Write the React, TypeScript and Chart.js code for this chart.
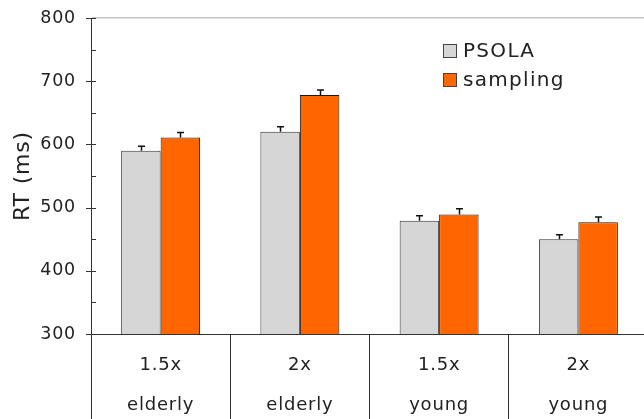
import React, { useEffect, useRef } from "react";
import { Chart, registerables } from "chart.js";

Chart.register(...registerables);

const categories: string[][] = [
  ["1.5x", "elderly"],
  ["2x", "elderly"],
  ["1.5x", "young"],
  ["2x", "young"],
];
const seriesNames = ["PSOLA", "sampling"];
const psola = [590, 620, 479, 450];
const sampling = [611, 678, 489, 477];
const psolaErr = [7, 8, 8, 7];
const samplingErr = [8, 8, 9, 8];
const yTicks = [300, 400, 500, 600, 700, 800];

const FONT = "'DejaVu Sans', Verdana, sans-serif";
const TEXT = "#222222";
const LINE = "#333333";

const spacing = {
  id: "spacing",
  beforeDraw(chart: any) {
    chart.ctx.letterSpacing = "0.8px";
  },
};

const errorBars = {
  id: "errorBars",
  afterDatasetsDraw(chart: any) {
    const ctx = chart.ctx;
    const y = chart.scales.y;
    const errs = [psolaErr, samplingErr];
    chart.data.datasets.forEach((ds: any, di: number) => {
      const meta = chart.getDatasetMeta(di);
      meta.data.forEach((el: any, i: number) => {
        const v = ds.data[i];
        const top = y.getPixelForValue(v + errs[di][i]);
        const x = Math.round(el.x) + 0.5;
        ctx.save();
        ctx.strokeStyle = "#111";
        ctx.lineWidth = 1.5;
        ctx.beginPath();
        ctx.moveTo(x, el.y);
        ctx.lineTo(x, top);
        ctx.moveTo(x - 3.5, top);
        ctx.lineTo(x + 3.5, top);
        ctx.stroke();
        ctx.restore();
      });
    });
    // y scale (drawn after datasets) uses normal spacing
    ctx.letterSpacing = "0px";
  },
};

const yTickMarks = {
  id: "yTickMarks",
  afterDraw(chart: any) {
    const ctx = chart.ctx;
    const y = chart.scales.y;
    const left = chart.chartArea.left;
    ctx.save();
    ctx.strokeStyle = LINE;
    ctx.lineWidth = 1;
    for (let v = y.min; v <= y.max; v += 50) {
      const py = Math.round(y.getPixelForValue(v)) + 0.5;
      const major = v % 100 === 0;
      ctx.beginPath();
      ctx.moveTo(major ? left - 5 : left, py);
      ctx.lineTo(left + 5, py);
      ctx.stroke();
    }
    ctx.restore();
  },
};

const legendBox = {
  id: "legendBox",
  afterDraw(chart: any) {
    const ctx = chart.ctx;
    ctx.save();
    chart.data.datasets.forEach((ds: any, i: number) => {
      const bx = 443;
      const by = 44 + i * 29;
      ctx.fillStyle = ds.backgroundColor;
      ctx.fillRect(bx, by, 14, 14);
      ctx.strokeStyle = "#444";
      ctx.lineWidth = 1;
      ctx.strokeRect(bx + 0.5, by + 0.5, 13, 13);
      ctx.fillStyle = TEXT;
      ctx.letterSpacing = "1.3px";
      ctx.font = `20px ${FONT}`;
      ctx.textBaseline = "middle";
      ctx.textAlign = "left";
      ctx.fillText(ds.label, 463, by + 7.5);
    });
    ctx.restore();
  },
};

export default function App() {
  const ref = useRef<HTMLCanvasElement>(null);
  useEffect(() => {
    if (!ref.current) return;
    const chart = new Chart(ref.current, {
      type: "bar",
      data: {
        labels: categories,
        datasets: [
          {
            label: seriesNames[0],
            data: psola,
            backgroundColor: "#d6d6d6",
            borderColor: "#333333",
            borderWidth: 1,
            categoryPercentage: 0.567,
            barPercentage: 1,
          },
          {
            label: seriesNames[1],
            data: sampling,
            backgroundColor: "#ff6600",
            borderColor: "#1a1a1a",
            borderWidth: 1,
            categoryPercentage: 0.567,
            barPercentage: 1,
          },
        ],
      },
      options: {
        responsive: false,
        animation: false,
        layout: { padding: { top: 18, right: 2, left: 0, bottom: 0 } },
        plugins: {
          legend: { display: false },
          tooltip: { enabled: false },
        },
        scales: {
          x: {
            z: 0,
            grid: {
              offset: true,
              drawOnChartArea: false,
              drawTicks: true,
              tickLength: 85,
              color: LINE,
            },
            border: { display: true, color: LINE, width: 1 },
            ticks: {
              color: TEXT,
              padding: -74,
              font: { family: FONT, size: 18, lineHeight: 2.222 },
            },
            afterFit(scale: any) {
              scale.height = 85;
            },
          },
          y: {
            z: 1,
            min: 300,
            max: 800,
            afterBuildTicks(scale: any) {
              scale.ticks = yTicks.map((v) => ({ value: v }));
            },
            grid: {
              drawTicks: false,
              color: (c: any) => (c.tick && c.tick.value === 800 ? "#c4c4c4" : "rgba(0,0,0,0)"),
              lineWidth: 1.5,
            },
            border: { display: true, color: LINE, width: 1 },
            ticks: {
              color: TEXT,
              padding: 15,
              font: { family: FONT, size: 17.5 },
            },
            title: {
              display: true,
              text: "RT (ms)",
              color: TEXT,
              font: { family: FONT, size: 22 },
              padding: { top: 10, bottom: 0 },
            },
            afterFit(scale: any) {
              scale.width = 91;
              scale.paddingTop = 0;
              scale.paddingBottom = 0;
            },
          },
        },
      },
      plugins: [spacing, errorBars, yTickMarks, legendBox],
    });
    return () => chart.destroy();
  }, []);
  return (
    <div
      style={{
        position: "absolute",
        left: 0,
        top: 0,
        width: 644,
        height: 419,
        overflow: "hidden",
        background: "#fff",
      }}
    >
      <canvas ref={ref} width={650} height={419} style={{ display: "block" }} />
    </div>
  );
}
